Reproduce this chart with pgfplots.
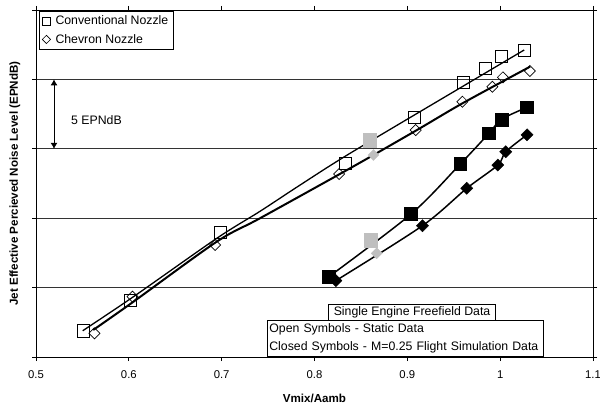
\documentclass[border=0pt]{standalone}
\usepackage{fontspec}
\setmainfont{Liberation Sans}
\usepackage{pgfplots}
\pgfplotsset{compat=1.18}
\usetikzlibrary{arrows.meta}

\newcommand{\ticklab}{\fontsize{11.3bp}{13bp}\selectfont}
\newcommand{\txt}{\fontsize{12.3bp}{14bp}\selectfont}
\newcommand{\lab}{\fontsize{11.6bp}{13bp}\selectfont\bfseries}

\begin{document}
\begin{tikzpicture}
\begin{axis}[
  scale only axis, width=557bp, height=347bp,
  xmin=0.5, xmax=1.1, ymin=0, ymax=25,
  xtick={0.5,0.6,0.7,0.8,0.9,1.0,1.1},
  xticklabels={0.5,0.6,0.7,0.8,0.9,1,1.1},
  ytick={0,5,10,15,20,25}, yticklabels={},
  x tick label style={font=\ticklab, yshift=-6bp},
  ymajorgrids, grid style={black!80, line width=0.7bp},
  tick align=outside, major tick length=4bp,
  tick style={black, line width=0.7bp},
  axis line style={line width=0.8bp},
  every axis x label/.style={at={(axis description cs:0.5,0)}, anchor=center, yshift=-41bp, font=\lab},
  every axis y label/.style={at={(axis description cs:0,0.5)}, xshift=-21bp, rotate=90, anchor=center, font=\lab},
  xlabel={Vmix/Aamb},
  ylabel={Jet Effective Percieved Noise Level (EPNdB)},
  legend style={at={(axis description cs:0.0054,0.997)}, anchor=north west,
    draw=black, line width=0.6bp, font=\txt, inner xsep=3bp, inner ysep=2.5bp,
    row sep=4bp, cells={anchor=west},
    /tikz/every odd column/.append style={column sep=3bp}},
  legend image code/.code={\draw[#1] plot coordinates {(0bp,0bp)};},
]
% legend entries
\addlegendimage{black, line width=0.6bp, mark=square, mark size=3.8bp}
\addlegendentry{Conventional Nozzle}
\addlegendimage{black, line width=0.6bp, mark=square, mark size=2.9bp, mark options={rotate=45}}
\addlegendentry{Chevron Nozzle}

% grey points
\addplot[only marks, forget plot, mark=square*, mark size=6.6bp,
  mark options={draw=black!25, fill=black!25, line width=0.1bp}] coordinates {(0.8594,15.63) (0.860,8.43)};
\addplot[only marks, forget plot, mark=square*, mark size=4bp,
  mark options={rotate=45, draw=black!25, fill=black!25, line width=0.1bp}] coordinates {(0.8635,14.55) (0.867,7.47)};

% conventional nozzle, static: open squares
\addplot[only marks, forget plot, mark=square, mark size=6.1bp, line width=0.7bp, black] coordinates {
  (0.5507,1.89) (0.602,4.11) (0.699,8.98) (0.833,13.96) (0.9077,17.24)
  (0.9605,19.79) (0.984,20.80) (1.001,21.64) (1.026,22.07)};
% chevron nozzle, static: open diamonds
\addplot[only marks, forget plot, mark=square, mark size=3.9bp, line width=0.7bp, black,
  mark options={rotate=45}] coordinates {
  (0.563,1.71) (0.604,4.35) (0.693,8.07) (0.8265,13.18) (0.909,16.35)
  (0.9594,18.39) (0.9917,19.47) (1.003,20.15) (1.032,20.61)};
% conventional nozzle, flight: closed squares
\addplot[only marks, forget plot, mark=square*, mark size=6.4bp, black] coordinates {
  (0.815,5.76) (0.904,10.30) (0.957,13.90) (0.988,16.12) (1.0014,17.12) (1.029,17.99)};
% chevron nozzle, flight: closed diamonds
\addplot[only marks, forget plot, mark=square*, mark size=4.3bp, black,
  mark options={rotate=45}] coordinates {
  (0.823,5.50) (0.9163,9.46) (0.964,12.15) (0.9975,13.83) (1.006,14.79) (1.029,16.01)};

% trend lines
\addplot[forget plot, smooth, black, line width=1.3bp] coordinates {
  (0.5503,1.89) (0.6049,4.34) (0.6947,8.55) (0.7414,10.50) (0.7845,12.39)
  (0.8384,14.68) (0.96,19.51) (1.0259,22.12)};
\addplot[forget plot, smooth, black, line width=2bp] coordinates {
  (0.5617,1.95) (0.6049,3.98) (0.6947,8.31) (0.7414,10.0) (0.8384,13.6)
  (0.909,16.3) (0.96,18.3) (1.0323,20.92)};
\addplot[forget plot, smooth, black, line width=1.5bp] coordinates {
  (0.815,5.76) (0.904,10.30) (0.957,13.90) (0.988,16.12) (1.0014,17.12) (1.029,17.99)};
\addplot[forget plot, smooth, black, line width=1.5bp] coordinates {
  (0.823,5.50) (0.9163,9.46) (0.964,12.15) (0.9975,13.83) (1.006,14.79) (1.029,16.01)};

% 5 EPNdB arrow
\draw[{Latex[length=6bp,width=7bp]}-{Latex[length=6bp,width=7bp]}, line width=0.8bp]
  (axis cs:0.5194,20) -- (axis cs:0.5194,15);
\node[anchor=west, font=\txt, inner sep=0pt] at (axis cs:0.5377,17.07) {5 EPNdB};

% text boxes
\node[anchor=south west, draw=black, fill=white, line width=0.6bp, font=\txt,
  minimum width=166.7bp, minimum height=16bp, inner sep=1bp]
  at (axis cs:0.815,2.594) {Single Engine Freefield Data};
\node[anchor=south west, draw=black, fill=white, line width=0.6bp,
  font=\fontsize{12.3bp}{18bp}\selectfont, text width=272bp, align=left,
  minimum height=36bp, inner xsep=2bp, inner ysep=1bp]
  at (axis cs:0.7489,0) {Open Symbols - Static Data\\Closed Symbols - M=0.25 Flight Simulation Data};
\end{axis}
\pgfresetboundingbox
\path[use as bounding box] ([xshift=-36bp,yshift=-49bp]current axis.south west)
  rectangle ([xshift=7bp,yshift=10bp]current axis.north east);
\end{tikzpicture}
\end{document}
